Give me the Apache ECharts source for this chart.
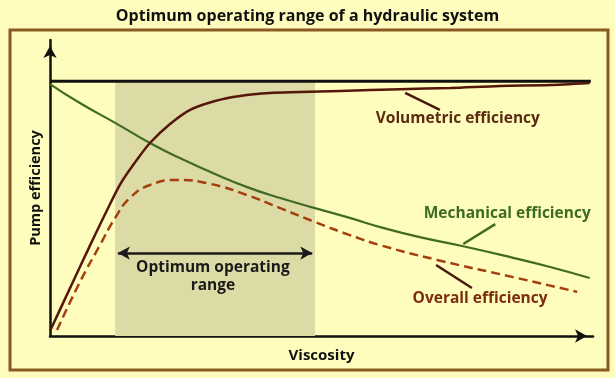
<!DOCTYPE html>
<html>
<head>
<meta charset="utf-8">
<script src="https://cdn.jsdelivr.net/npm/echarts@6/dist/echarts.min.js"></script>
<style>
html,body{margin:0;padding:0;background:#fefdbd;}
#main{width:615px;height:378px;}
</style>
</head>
<body>
<div id="main"></div>
<script>
// relative viscosity (0-100) and pump efficiency (0-100)
var volX = [0, 3.7, 7.4, 10.5, 13.0, 15.8, 18.4, 22.1, 25.8, 30.4, 35.0, 40.5, 46.0, 53.4, 64.5, 73.7, 82.9, 92.1, 99.4];
var volY = [1.7, 16.2, 30.7, 42.5, 51.5, 59.0, 65.2, 71.6, 76.4, 79.4, 81.1, 82.1, 82.4, 82.8, 83.4, 83.8, 84.5, 84.8, 85.5];

var mechX = [0, 5.5, 12.0, 18.4, 23.9, 30.4, 36.3, 42.4, 48.8, 55.2, 60.8, 68.1, 75.9, 85.3, 92.1, 99.4];
var mechY = [85.1, 78.7, 72.0, 65.2, 60.1, 54.7, 50.3, 46.6, 43.2, 39.9, 36.8, 33.4, 30.4, 26.4, 23.3, 19.6];

var overX = [1.3, 5.5, 9.2, 12.0, 14.7, 18.4, 23.4, 29.5, 36.3, 42.4, 48.8, 55.2, 60.8, 71.3, 85.3, 97.1];
var overY = [2.0, 18.2, 30.7, 39.9, 46.6, 51.0, 52.7, 51.4, 47.6, 43.2, 38.5, 34.1, 30.7, 25.7, 19.9, 14.9];

var maxLevel = 86.1;          // theoretical 100% line
var rangeStart = 12.0;        // optimum operating range
var rangeEnd = 48.8;

var seriesNames = ['Volumetric efficiency', 'Mechanical efficiency', 'Overall efficiency'];
var rangeText = ['Optimum operating', 'range'];

function pairs(xs, ys) {
    return xs.map(function (x, i) { return [x, ys[i]]; });
}

var font = '"Open Sans", sans-serif';
var myChart = echarts.init(document.getElementById('main'));

myChart.setOption({
    backgroundColor: '#fefdbd',
    animation: false,
    title: {
        text: 'Optimum operating range of a hydraulic system',
        left: 'center',
        top: 3,
        textStyle: { fontFamily: font, fontSize: 16, fontWeight: 'bold', color: '#111' }
    },
    grid: { left: 50, right: 22, top: 40, bottom: 42 },
    xAxis: {
        type: 'value', min: 0, max: 100,
        name: 'Viscosity', nameLocation: 'middle', nameGap: 12,
        nameTextStyle: { fontFamily: font, fontSize: 15, fontWeight: 'bold', color: '#111' },
        axisLine: { lineStyle: { color: '#111', width: 2.5 }, symbol: ['none', 'arrow'], symbolSize: [10, 12], symbolOffset: [0, -6] },
        axisTick: { show: false }, axisLabel: { show: false }, splitLine: { show: false }
    },
    yAxis: {
        type: 'value', min: 0, max: 100,
        name: 'Pump efficiency', nameLocation: 'middle', nameGap: 7, nameRotate: 90,
        nameTextStyle: { fontFamily: font, fontSize: 14.5, fontWeight: 'bold', color: '#111' },
        axisLine: { lineStyle: { color: '#111', width: 2.5 }, symbol: ['none', 'arrow'], symbolSize: [10, 12], symbolOffset: [0, -6] },
        axisTick: { show: false }, axisLabel: { show: false }, splitLine: { show: false }
    },
    series: [
        {
            name: 'range', type: 'line', data: [], silent: true,
            markArea: {
                silent: true,
                itemStyle: { color: '#dcdaa5' },
                data: [[{ xAxis: rangeStart, yAxis: 0 }, { xAxis: rangeEnd, yAxis: maxLevel }]]
            },
            markLine: {
                silent: true,
                symbol: ['arrow', 'arrow'], symbolSize: [10, 12],
                label: { show: false },
                lineStyle: { color: '#1a1a1a', width: 2.5, type: 'solid' },
                data: [[{ coord: [rangeStart + 0.5, 28] }, { coord: [rangeEnd - 0.5, 28] }]]
            }
        },
        {
            name: '100%', type: 'line', data: [[0, maxLevel], [99.6, maxLevel]],
            symbol: 'none', lineStyle: { color: '#111', width: 3 }
        },
        {
            name: seriesNames[1], type: 'line', data: pairs(mechX, mechY), smooth: true,
            symbol: 'none', lineStyle: { color: '#3f6b25', width: 2.2 }
        },
        {
            name: seriesNames[2], type: 'line', data: pairs(overX, overY), smooth: true,
            symbol: 'none', lineStyle: { color: '#a4400f', width: 2.5, type: [9, 5] }
        },
        {
            name: seriesNames[0], type: 'line', data: pairs(volX, volY), smooth: 0.3,
            symbol: 'none', lineStyle: { color: '#55170a', width: 2.5 }
        }
    ]
});

// annotations placed in data coordinates
function px(x, y) { return myChart.convertToPixel({ gridIndex: 0 }, [x, y]); }
function leader(a, b, color) {
    var p = px(a[0], a[1]), q = px(b[0], b[1]);
    return { type: 'line', shape: { x1: p[0], y1: p[1], x2: q[0], y2: q[1] }, style: { stroke: color, lineWidth: 2.5 }, z: 10 };
}
function label(t, at, color) {
    var p = px(at[0], at[1]);
    return { type: 'text', x: p[0], y: p[1], z: 10,
        style: { text: t, fill: color, font: 'bold 15.5px ' + font, textAlign: 'center', textVerticalAlign: 'middle' } };
}

myChart.setOption({
    graphic: [
        { type: 'rect', shape: { x: 10, y: 30, width: 598, height: 340 }, style: { fill: null, stroke: '#8a5a24', lineWidth: 3 }, z: 0 },
        leader([65.4, 82.1], [71.8, 76.4], '#4a1a0a'),
        label(seriesNames[0], [75.1, 73.6], '#5b2a12'),
        leader([76.1, 31.1], [82.0, 37.8], '#3f6b25'),
        label(seriesNames[1], [84.2, 41.2], '#3d6b22'),
        leader([71.1, 24.0], [77.7, 16.2], '#4a1a0a'),
        label(seriesNames[2], [79.2, 12.8], '#7b2c0f'),
        label(rangeText[0], [30.0, 23.0], '#1a1a1a'),
        label(rangeText[1], [30.0, 17.2], '#1a1a1a')
    ]
});
</script>
</body>
</html>
